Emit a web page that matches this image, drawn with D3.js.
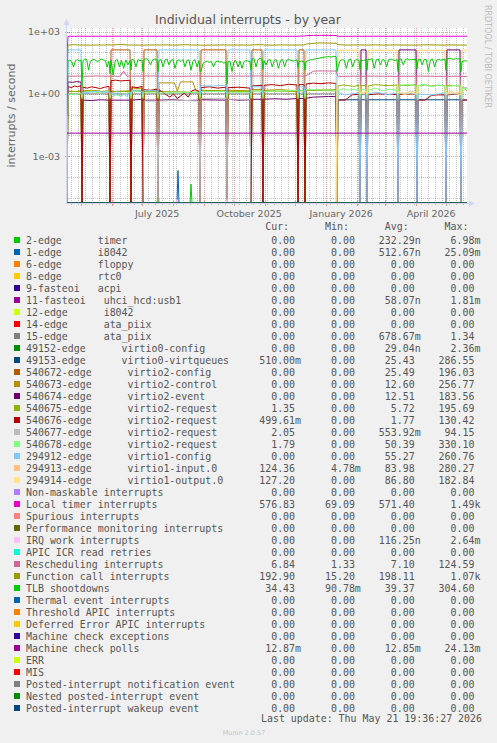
<!DOCTYPE html>
<html><head><meta charset="utf-8">
<script src="https://cdn.jsdelivr.net/npm/d3@7"></script>
<style>body{margin:0;background:#f0f0f0}svg{display:block}</style>
</head><body><svg id="c" width="497" height="743"></svg>
<script>
// ---------------- DATA ----------------
const startDate = new Date(2025, 3, 16, 19, 36, 27);
const endDate = new Date(2026, 4, 21, 19, 36, 27);
const lastDay = 400;
// days (from start) at which counters reset (reboots)
const reboots = [0, 15, 43, 64, 76, 91, 133, 160, 184, 196, 231, 238, 270, 293, 300, 331, 350, 379, 394];

const labels = [
"2-edge      timer","1-edge      i8042","6-edge      floppy","8-edge      rtc0","9-fasteoi   acpi",
"11-fasteoi   uhci_hcd:usb1","12-edge      i8042","14-edge      ata_piix","15-edge      ata_piix",
"49152-edge      virtio0-config","49153-edge      virtio0-virtqueues","540672-edge      virtio2-config",
"540673-edge      virtio2-control","540674-edge      virtio2-event","540675-edge      virtio2-request",
"540676-edge      virtio2-request","540677-edge      virtio2-request","540678-edge      virtio2-request",
"294912-edge      virtio1-config","294913-edge      virtio1-input.0","294914-edge      virtio1-output.0",
"Non-maskable interrupts","Local timer interrupts","Spurious interrupts","Performance monitoring interrupts",
"IRQ work interrupts","APIC ICR read retries","Rescheduling interrupts","Function call interrupts",
"TLB shootdowns","Thermal event interrupts","Threshold APIC interrupts","Deferred Error APIC interrupts",
"Machine check exceptions","Machine check polls","ERR","MIS","Posted-interrupt notification event",
"Nested posted-interrupt event","Posted-interrupt wakeup event"];

const colors = ["#00CC00","#0066B3","#FF8000","#FFCC00","#330099","#990099","#CCFF00","#FF0000","#808080",
"#008F00","#00487D","#B35A00","#B38F00","#6B006B","#8FB300","#B30000","#BEBEBE","#80FF80","#80C9FF",
"#FFC080","#FFE680","#AA80FF","#EE00CC","#FF8080","#666600","#FFBFFF","#00FFCC","#CC6699","#999900",
"#00CC00","#0066B3","#FF8000","#FFCC00","#330099","#990099","#CCFF00","#FF0000","#808080","#008F00","#00487D"];

const curVals = [0,0,0,0,0,0,0,0,0,0,510.00e-3,0,0,0,1.35,499.61e-3,2.05,1.79,0,124.36,127.20,0,576.83,0,0,0,0,6.84,192.90,34.43,0,0,0,0,12.87e-3,0,0,0,0,0];
const minVals = [0,0,0,0,0,0,0,0,0,0,0,0,0,0,0,0,0,0,0,4.78e-3,0,0,69.09,0,0,0,0,1.33,15.20,90.78e-3,0,0,0,0,0,0,0,0,0,0];
const avgVals = [232.29e-9,512.67e-9,0,0,0,58.07e-9,0,0,678.67e-3,29.04e-9,25.43,25.49,12.60,12.51,5.72,1.77,553.92e-3,50.39,55.27,83.98,86.80,0,571.40,0,0,116.25e-9,0,7.10,198.11,39.37,0,0,0,0,12.85e-3,0,0,0,0,0];
const maxVals = [6.98e-3,25.09e-3,0,0,0,1.81e-3,0,0,1.34,2.36e-3,286.55,196.03,256.77,183.56,195.69,130.42,94.15,330.10,260.76,280.27,182.84,0,1.49e3,0,0,2.64e-3,0,124.59,1.07e3,304.60,0,0,0,0,24.13e-3,0,0,0,0,0];

// spikes: [day, value]
const timerSpikes = [[91, 2.5e-5], [124, 4.5e-5], [293, 8e-6], [300, 8e-6]];
const i8042Spikes = [[111, 2e-4]];
const usbSpikes = [[15, 8e-6], [64, 8e-6]];
const irqWorkSpikes = [[110, 8e-6], [160, 8e-6], [167, 8e-6]];

// per-segment values (segments between reboots)
const ata15Segs = [[1.0],[1.0],[1.0],[1.0],[1.0],[1.0],[1.0],[1.0],[1.0],[1.0],[1.0],[1.0],[0],[0],[0],[0],[0],[0],[0]];
const vq49153Segs = [[0],[0],[0],[0],[0],[0],[0],[0],[0],[0],[0],[0],[0.52],[0.52],[0.52],[0.52],[0.52],[0.52],[0.51]];
const v2configSegs = [[0],[0],[132],[0],[132],[0],[132],[0],[132],[0],[132],[0],[0],[0],[0],[0],[0],[0],[0]];
const v2controlSegs = [[1.4,1.3,1.4],[1.4,1.5,1.3,1.4],[1.3,1.4],[2.0,1.8,1.9],[1.4,1.5],
  [3.4,3.4,3.4,3.4,3.4,3.4,1.4,3.8,3.8,3.8,3.8,3.8,1.4,1.4],[1.5,1.4],[1.5,1.4],[1.6],[1.5,1.6,1.4],[1.5],[1.5,1.6],
  [0],[0],[0],[0],[0],[0],[0]];
const v2eventSegs = [[3.8,3.6,3.9,3.7],[0.5,0.48,0.52,0.5],[0.5],[0.5,0.55],[0.5],[0.5,0.52,0.48,0.5],[0.52,0.5],
  [0.55,0.5,0.52],[0.55],[0.55,0.58,0.55,0.6],[0.6],[0.62,0.7,0.72,0.75,0.74],[0],[132],[0],[132],[0],[132],[0]];
const v2req1Segs = [[1.3],[1.3,1.4,1.2],[1.3],[1.5],[1.3],[1.3,1.2],[1.4],[1.3],[1.4],[1.4,1.3],[1.4],[1.5,1.4],
  [2.4,2.7,2.5,2.3,2.6],[2.5],[2.4,2.8,2.6,2.5,2.7],[2.6,2.5,2.8],[2.5,2.7,2.4,2.6,2.5],[2.6,2.4],[2.2,1.4]];
const v2req2Segs = [[2.3,2.0,2.4,2.2,2.5],[2.1,1.9,2.2,2.0,1.8,2.1,2.3],[4.3,4.6,4.2,4.4,4.5],[2.2,2.0,2.3],[1.6,1.5,1.7],
  [1.6,1.2,0.9,0.7,1.0,0.6,0.8,1.1,0.7,1.4,1.6,1.3],[2.0,2.2,1.9,2.1],[2.0,2.1,1.9],[2.4,2.6],[2.6,2.8,2.5,2.9,2.7],[2.8],
  [3.0,3.3,3.1,3.4,3.2],[0.5,0.5,0.9,0.95],[0.95],[0.9,1.0,0.95,0.92],[0.95,1.0],[0.5,0.5,0.85,0.9,0.88],[0.9,1.0],[0.5]];
const v2req3Segs = [[0],[0],[0],[0],[0.45],[0.45,0.5,0.45],[0.6,0.62],[0.55],[0],[0],[0],[0],[0],[0],[0],[0],[0],[0],[2.05]];
const v2req4Segs = [[1.0,0.9,1.1],[1.2,1.3,1.1,1.4],[1.0,0.8,1.2],[1.3],[1.2],[1.1,1.2],[1.3],[1.2],[1.4],[1.3,1.5],[1.4],
  [1.6,1.5],[1.4,1.8,1.5,1.7,1.4],[1.6],[1.5,1.9,1.4,1.7,1.5],[2.6,2.8,2.4],[2.5,2.9,2.2,2.7,2.4],[2.3,2.7],[1.8]];
const v2req4Dips = [0,0.6,0.6,0.6,0.6,0.6,0.6,0.6,0.6,0.6,0.6,0.6,0.6,0.6,0.6,0.6,0.6,0.6,0.6];
const v1configSegs = [[132],[1.1,1.3,1.2],[1.2,0.8,1.5,0.7,1.0,0.75,1.3],[1.5,1.3],[1.5,1.4],[132],[2.5,2.4,2.6],[132],
  [2.2],[132],[2.2],[132],[1.2,0.9,1.0,1.1],[0.9],[1.0,1.2,0.9,1.1],[1.1,1.0],[1.0,0.9,1.1],[1.0],[0]];
const v1configDips = [0,1.0,1.0,1.0,1.0,1.0,1.0,1.0,1.0,1.0,1.0,1.0,0,0,0,0,0,0,0];
const v1inputSegs = [[0],[0],[0],[0],[0],[0],[0],[0],[0],[0],[0],[0],[124],[1.2,1.0,1.4],[124],[1.2,1.0,1.4,1.1],[124],
  [1.1,1.4,1.0,1.3],[124]];
const v1inputDips = [0,0,0,0,0,0,0,0,0,0,0,0,1.0,1.0,1.0,1.0,1.0,1.0,1.0];
const v1outputSegs = [[0],[0],[0],[0],[0],[0],[0],[0],[0],[0],[0],[0],[127],[1.1,1.3],[127],[1.3,0.9,1.2,1.0],[127],
  [1.0,1.2,0.9],[127]];
const v1outputDips = [0,0,0,0,0,0,0,0,0,0,0,0,1.0,1.0,1.0,1.0,1.0,1.0,1.0];
const localTimerSegs = [[600,595,605],[600,598,602,596],[598,604,600],[600,597],[602,598],[600,605,598,603,600],
  [600,604,598],[602,600],[598,602],[600,605,600,598],[612],[640,660,665,660,650],[600,596,602],[598],
  [600,603,597,600],[602,598],[600,596,603,600],[598,602],[600]];
const localTimerDips = [69.09,null,null,null,null,null,null,null,null,null,null,null,null,null,null,null,null,null,null];
const reschedSegs = [[7.2],[7.0,7.3,7.1],[7.1,7.2,7.0,7.2,12.5,7.1,7.2],[7.2],[7.3],[7.2,7.0,7.3],[7.1],[7.2],[7.3],
  [7.2,7.1],[7.2],[7.5,12.5,12.8,12.7,12.6],[7.0,7.2],[7.1],[7.2,7.0],[7.1],[7.2,7.0],[7.1],[6.9]];
const reschedDips = [1.33,null,null,null,null,null,null,null,null,null,null,null,null,null,null,null,null,null,null];
const funcCallSegs = [[225,235,225],[230,222,228,225,232],[226,240,225],[228,224],[225,230],[226,232,224,228,236,225,228],
  [222,226,230],[225,228,224],[232,236],[226,224,230,227,225],[228],[250,270,285,285,280,275],[235,226,230],[228],
  [226,232,225,228,230],[228,224],[226,232,228,225],[230,226],[225]];
const funcCallDips = [15.2,null,null,null,null,null,null,null,null,null,null,null,null,null,null,null,null,null,null];
const tlbSegs = [[38,43,36,20,40,45,38,43],[40,48,45,14,38,43,46,40,36,43,48,44,40,20,38],[44,8,40,45,20,42,17,43,25,40],
  [48,42,20,45,40,43],[45,50,42,25,44,48,43],[40,45,20,43,48,25,42,45,17,40,44,36,46,20,42,43,14,38,45,20,40],
  [12,30,35,38,33,36,20,35,38,34,36,30,35],[35,38,12,36,40,20,38,17,36,40,38,36],[48,50,20,45,52,48],
  [40,25,43,45,20,42,44,17,40,46,20,43,45,42,38,40,44],[36,38,36],[36,40,43,45,48,50,52,55,58,60,62,62,60,65,62],
  [20,40,45,42,17,44,48,20,42,45,40],[43,40,45],[48,45,50,17,44,48,25,46,42,20,45,48,44,40,46],
  [46,48,25,45,50,43,46,44,48],[43,48,25,46,45,12,44,48,20,43,46,42,45,48],[48,52,50,45,52,48,50],[36,40,38]];
const tlbDips = [0.09,2,10,14,12,12,12,3,14,15,18,14,12,15,14,12,16,14,12];
const mcPollSegs = [[0.0128],[0.0128],[0.0128],[0.0128],[0.0128],[0.0128],[0.0128],[0.0128],[0.0128],[0.0128],
  [0.0128],[0.0128],[0.0128],[0.0128],[0.0128],[0.0128],[0.0128],[0.0128],[0.0128]];
const mcPollDips = [0.0128,null,null,null,null,null,null,null,null,null,null,null,null,null,null,null,null,null,null];

// ---------------- BUILD SERIES ----------------
function fromSegs(segs, dips) {
  const pts = [];
  reboots.forEach((r, i) => {
    const dv = dips ? dips[i] : 0;
    if (dv !== null) pts.push([r, dv]);
    const s = r + 1, e = (i + 1 < reboots.length) ? reboots[i + 1] - 1 : lastDay;
    const vals = segs[i];
    if (vals.length === 1) { pts.push([s, vals[0]], [e, vals[0]]); }
    else vals.forEach((v, k) => pts.push([s + k * (e - s) / (vals.length - 1), v]));
  });
  return pts;
}
function fromSpikes(sp) {
  const pts = [[0, 0]];
  sp.forEach(([d, v]) => pts.push([d - 1, 0], [d, v], [d + 1, 0]));
  pts.push([lastDay, 0]);
  return pts;
}
const zeroPts = [[0, 0], [lastDay, 0]];
const seriesPts = labels.map(() => zeroPts);
seriesPts[0] = fromSpikes(timerSpikes);
seriesPts[1] = fromSpikes(i8042Spikes);
seriesPts[5] = fromSpikes(usbSpikes);
seriesPts[8] = fromSegs(ata15Segs);
seriesPts[10] = fromSegs(vq49153Segs);
seriesPts[11] = fromSegs(v2configSegs);
seriesPts[12] = fromSegs(v2controlSegs);
seriesPts[13] = fromSegs(v2eventSegs);
seriesPts[14] = fromSegs(v2req1Segs);
seriesPts[15] = fromSegs(v2req2Segs);
seriesPts[16] = fromSegs(v2req3Segs);
seriesPts[17] = fromSegs(v2req4Segs, v2req4Dips);
seriesPts[18] = fromSegs(v1configSegs, v1configDips);
seriesPts[19] = fromSegs(v1inputSegs, v1inputDips);
seriesPts[20] = fromSegs(v1outputSegs, v1outputDips);
seriesPts[22] = fromSegs(localTimerSegs, localTimerDips);
seriesPts[25] = fromSpikes(irqWorkSpikes);
seriesPts[27] = fromSegs(reschedSegs, reschedDips);
seriesPts[28] = fromSegs(funcCallSegs, funcCallDips);
seriesPts[29] = fromSegs(tlbSegs, tlbDips);
seriesPts[34] = fromSegs(mcPollSegs, mcPollDips);

// ---------------- DRAW ----------------
const svg = d3.select('#c');
const L = 67, R = 467, T = 28, B = 203;
const DAY = 86400000;
const x = d3.scaleTime().domain([startDate, endDate]).range([L, R]);
const y = d3.scaleLog().domain([5.5e-6, 1500]).range([B, T]).clamp(true);
const dayDate = d => new Date(startDate.getTime() + d * DAY);
const sans = "'DejaVu Sans', Verdana, sans-serif";
const mono = "'DejaVu Sans Mono', monospace";
const fontCol = "#666";
const axisCol = "#CFD6F8";
const gridCol = "rgba(143,143,143,0.55)";
const mgridCol = "rgba(222,79,79,0.55)";

svg.append('rect').attr('width', 497).attr('height', 743).attr('fill', '#f0f0f0');
svg.append('rect').attr('x', L).attr('y', T).attr('width', R - L).attr('height', B - T).attr('fill', '#fff');

// title
svg.append('text').attr('x', 248).attr('y', 23.5).attr('text-anchor', 'middle')
  .attr('font-family', sans).attr('font-size', 12.5).attr('fill', '#555').text('Individual interrupts - by year');
// watermark
svg.append('text').attr('transform', 'translate(485,5) rotate(90)').attr('font-family', sans)
  .attr('font-size', 8).attr('fill', '#bbb').text('RRDTOOL / TOBI OETIKER');
// y title
svg.append('text').attr('transform', `translate(15,${(T + B) / 2}) rotate(-90)`).attr('text-anchor', 'middle')
  .attr('font-family', sans).attr('font-size', 11).attr('fill', fontCol).text('interrupts / second');

const grid = svg.append('g').attr('shape-rendering', 'crispEdges');
// horizontal grid
const decades = d3.range(-5, 3).map(e => Math.pow(10, e));
const majorY = [1e-3, 1, 1e3];
decades.forEach(v => {
  if (majorY.some(m => Math.abs(m - v) / m < 1e-9)) return;
  grid.append('line').attr('x1', L).attr('x2', R).attr('y1', Math.round(y(v)) + 0.5).attr('y2', Math.round(y(v)) + 0.5)
    .attr('stroke', gridCol).attr('stroke-dasharray', '1,1');
  grid.append('line').attr('x1', L - 1).attr('x2', L + 2).attr('y1', Math.round(y(v)) + 0.5).attr('y2', Math.round(y(v)) + 0.5)
    .attr('stroke', gridCol);
});
majorY.forEach(v => {
  const yy = Math.round(y(v)) + 0.5;
  grid.append('line').attr('x1', L).attr('x2', R).attr('y1', yy).attr('y2', yy)
    .attr('stroke', mgridCol).attr('stroke-dasharray', '1,1');
  grid.append('line').attr('x1', L - 2).attr('x2', L + 3).attr('y1', yy).attr('y2', yy).attr('stroke', mgridCol);
});
// vertical grid
const months = d3.timeMonth.range(startDate, endDate);
const monthKeys = new Set(months.map(d => d.getTime()));
d3.timeMonday.range(startDate, endDate).forEach(d => {
  if (monthKeys.has(d.getTime())) return;
  const xx = Math.round(x(d)) + 0.5;
  grid.append('line').attr('x1', xx).attr('x2', xx).attr('y1', T).attr('y2', B).attr('stroke', gridCol).attr('stroke-dasharray', '1,1');
  grid.append('line').attr('x1', xx).attr('x2', xx).attr('y1', B - 1).attr('y2', B + 2).attr('stroke', gridCol);
});
months.forEach(d => {
  const xx = Math.round(x(d)) + 0.5;
  grid.append('line').attr('x1', xx).attr('x2', xx).attr('y1', T).attr('y2', B).attr('stroke', mgridCol).attr('stroke-dasharray', '1,1');
  grid.append('line').attr('x1', xx).attr('x2', xx).attr('y1', B - 2).attr('y2', B + 3).attr('stroke', mgridCol);
});

// y tick labels
const fmtExp = v => { const e = Math.round(Math.log10(v)); return '1e' + (e < 0 ? '-' : '+') + String(Math.abs(e)).padStart(2, '0'); };
majorY.forEach(v => {
  svg.append('text').attr('x', 60).attr('y', y(v) + 3.4).attr('text-anchor', 'end')
    .attr('font-family', sans).attr('font-size', 9.5).attr('fill', fontCol).text(fmtExp(v));
});
// x labels
const fmtMonth = d3.timeFormat('%B %Y');
d3.timeMonth.every(3).range(startDate, endDate).forEach(d => {
  svg.append('text').attr('x', x(new Date(d.getTime() + 15 * DAY))).attr('y', 216.5).attr('text-anchor', 'middle')
    .attr('font-family', sans).attr('font-size', 9.5).attr('fill', fontCol).text(fmtMonth(d));
});

// lines
svg.append('clipPath').attr('id', 'clip').append('rect').attr('x', L).attr('y', T - 2).attr('width', R - L).attr('height', B - T + 2);
const plot = svg.append('g').attr('clip-path', 'url(#clip)');
const line = d3.line().x(p => x(dayDate(p[0]))).y(p => y(Math.max(p[1], 1e-12)));
seriesPts.forEach((pts, i) => {
  plot.append('path').attr('d', line(pts)).attr('fill', 'none').attr('stroke', colors[i]).attr('stroke-width', 1);
});

// axes
const ax = svg.append('g').attr('shape-rendering', 'crispEdges');
ax.append('line').attr('x1', L - 0.5).attr('x2', R + 4).attr('y1', B + 0.5).attr('y2', B + 0.5).attr('stroke', axisCol);
ax.append('line').attr('x1', L - 0.5).attr('x2', L - 0.5).attr('y1', B + 0.5).attr('y2', T - 4).attr('stroke', axisCol);
svg.append('path').attr('d', `M${R + 2},${B - 2.5}L${R + 8},${B + 0.5}L${R + 2},${B + 3.5}Z`).attr('fill', axisCol);
svg.append('path').attr('d', `M${L - 3.5},${T - 3}L${L - 0.5},${T - 9}L${L + 2.5},${T - 3}Z`).attr('fill', axisCol);

// legend
const cw = 5.98, lx = 26, fs = 9.93;
const si = v => {
  if (v === 0) return '  0.00 ';
  const pre = { '-9': 'n', '-6': 'u', '-3': 'm', '0': ' ', '3': 'k', '6': 'M' };
  const e = Math.floor(Math.log10(Math.abs(v)) / 3) * 3;
  return (v / Math.pow(10, e)).toFixed(2).padStart(6, ' ') + pre[e];
};
const leg = svg.append('g').attr('font-family', mono).attr('font-size', fs).attr('fill', '#555');
['Cur:', 'Min:', 'Avg:', 'Max:'].forEach((h, k) => {
  leg.append('text').attr('x', lx + (40 + 10 * k) * cw).attr('y', 230).text(h);
});
labels.forEach((lab, i) => {
  const cy = 240 + 12 * i;
  leg.append('rect').attr('x', 14).attr('y', cy - 3).attr('width', 6).attr('height', 6).attr('fill', colors[i]);
  leg.append('text').attr('x', lx).attr('y', cy + 3.5).style('white-space', 'pre').text(lab);
  [curVals[i], minVals[i], avgVals[i], maxVals[i]].forEach((v, k) => {
    leg.append('text').attr('x', lx + (39 + 10 * k) * cw).attr('y', cy + 3.5).style('white-space', 'pre').text(si(v));
  });
});
leg.append('text').attr('x', 482).attr('y', 722).attr('text-anchor', 'end').style('white-space', 'pre')
  .text('Last update: Thu May 21 19:36:27 2026');
svg.append('text').attr('x', 244).attr('y', 735).attr('text-anchor', 'middle').attr('font-family', sans)
  .attr('font-size', 6.5).attr('fill', '#c4c4c4').text('Munin 2.0.57');
</script>
</body></html>
